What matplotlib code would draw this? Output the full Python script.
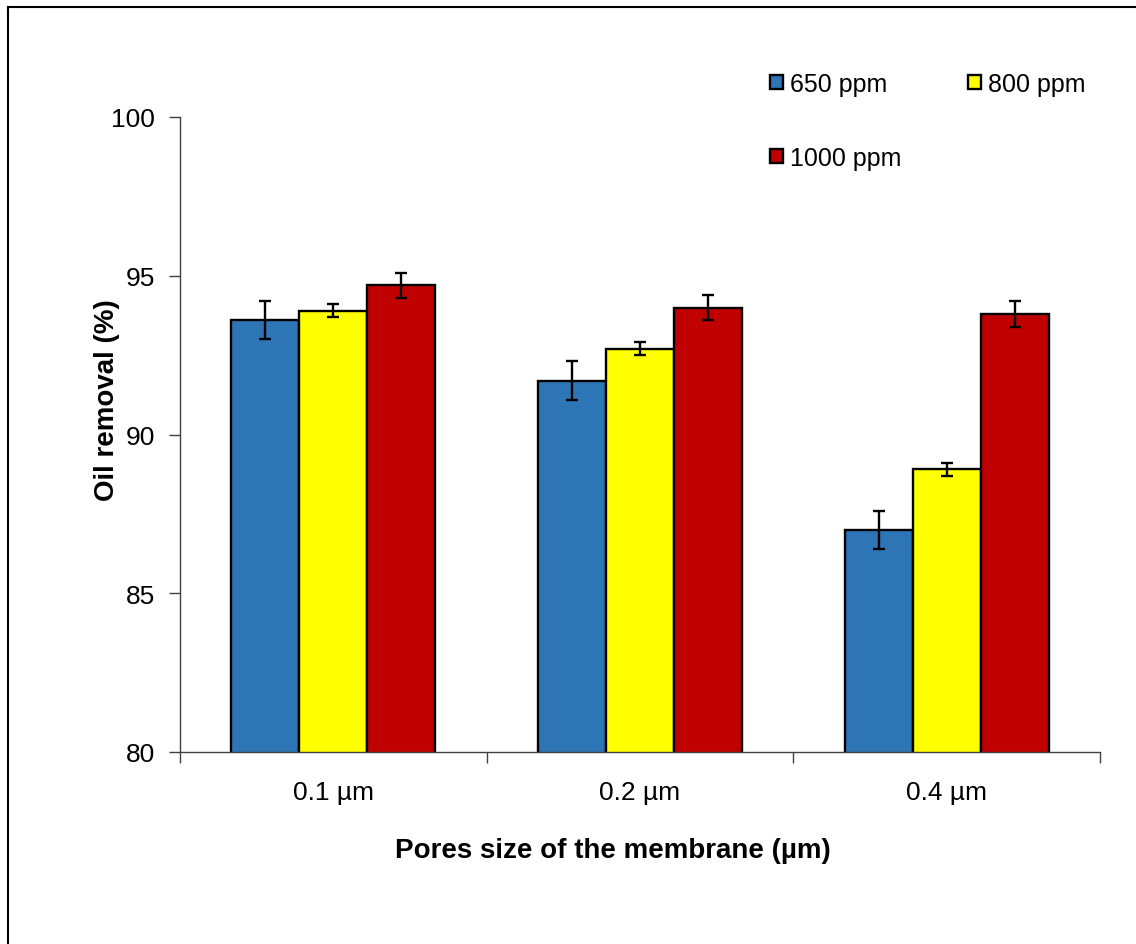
import numpy as np
import matplotlib
matplotlib.use("Agg")
import matplotlib.pyplot as plt
from matplotlib.lines import Line2D

plt.rcParams["font.family"] = ["Liberation Sans", "DejaVu Sans"]

pore_sizes = ["0.1 µm", "0.2 µm", "0.4 µm"]
series_names = ["650 ppm", "800 ppm", "1000 ppm"]
removal_650 = [93.6, 91.7, 87.0]
removal_800 = [93.9, 92.7, 88.9]
removal_1000 = [94.7, 94.0, 93.8]
err_650 = [0.6, 0.6, 0.6]
err_800 = [0.2, 0.2, 0.2]
err_1000 = [0.4, 0.4, 0.4]
colors = ["#2E75B6", "#FFFF00", "#C00000"]

fig = plt.figure(figsize=(11.36, 9.45), dpi=100)
ax = fig.add_axes([180 / 1136, 1 - 753 / 945, 920 / 1136, 635 / 945])

x = np.arange(len(pore_sizes))
w = 0.222
handles = []
for i, (vals, errs) in enumerate(zip([removal_650, removal_800, removal_1000],
                                     [err_650, err_800, err_1000])):
    b = ax.bar(x + (i - 1) * w, vals, w, bottom=0, color=colors[i],
               edgecolor="black", linewidth=1.7, label=series_names[i], zorder=2)
    ax.errorbar(x + (i - 1) * w, vals, yerr=errs, fmt="none", ecolor="black",
                elinewidth=1.7, capsize=4.5, capthick=1.7, zorder=3)
    handles.append(b)

ax.set_ylim(80, 100)
ax.set_xlim(-0.5, 2.5)
ax.set_yticks([80, 85, 90, 95, 100])
ax.set_xticks(x)
ax.set_xticklabels(pore_sizes)
ax.set_xticks([-0.5, 0.5, 1.5, 2.5], minor=True)
ax.tick_params(axis="x", which="major", length=0, pad=20, labelsize=19)
ax.tick_params(axis="x", which="minor", length=8, width=1, direction="out", color="#404040")
ax.tick_params(axis="y", length=8, width=1, direction="out", pad=10, labelsize=19, color="#404040")

for s in ["top", "right"]:
    ax.spines[s].set_visible(False)
for s in ["left", "bottom"]:
    ax.spines[s].set_color("#404040")
    ax.spines[s].set_linewidth(1)

ax.set_ylabel("Oil removal (%)", fontsize=20, fontweight="bold")
ax.set_xlabel("Pores size of the membrane (µm)", fontsize=20, fontweight="bold")
ax.yaxis.set_label_coords((107 - 180) / 920, (753 - 400) / 635)
ax.xaxis.set_label_coords((613 - 180) / 920, (753 - 851) / 635)
ax.xaxis.label.set_va("center")
ax.yaxis.label.set_va("center")

# legend in row order: 650, 800 / 1000
ax.legend([handles[0], handles[2], handles[1]],
          [series_names[0], series_names[2], series_names[1]],
          ncol=2, frameon=False, fontsize=18, handlelength=0.52, handleheight=0.52,
          handletextpad=0.28, columnspacing=2.68, labelspacing=2.0,
          loc="upper left", bbox_to_anchor=(770 / 1136, 1 - 73 / 945),
          bbox_transform=fig.transFigure, borderaxespad=0, borderpad=0)

# screenshot frame: top and left edges only
fig.add_artist(Line2D([8 / 1136, 8 / 1136], [0, 1 - 8 / 945], color="black", lw=1.5))
fig.add_artist(Line2D([8 / 1136, 1], [1 - 8 / 945, 1 - 8 / 945], color="black", lw=1.5))

fig.savefig("out.png", dpi=100)
